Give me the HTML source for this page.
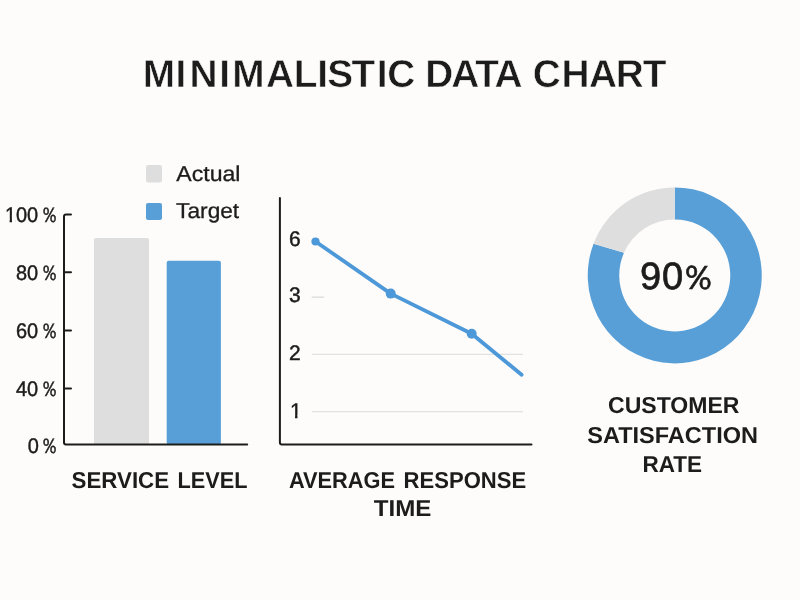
<!DOCTYPE html>
<html>
<head>
<meta charset="utf-8">
<title>Minimalistic Data Chart</title>
<style>
html,body{margin:0;padding:0;width:800px;height:600px;overflow:hidden;background:#fdfcfa;}
svg{display:block;text-rendering:geometricPrecision;}
text{font-family:"Liberation Sans",Arial,sans-serif;fill:#1c1c1c;}
.t{font-weight:700;font-size:38.8px;stroke:#fdfcfa;stroke-width:0.55px;}
.ax{font-size:21px;stroke:#1c1c1c;stroke-width:0.45px;}
.pc{font-family:"WenQuanYi Zen Hei","Liberation Sans",sans-serif;}
.cap{font-weight:700;font-size:23px;}
.lg{font-size:21.6px;stroke:#1c1c1c;stroke-width:0.3px;}
</style>
</head>
<body>
<svg width="800" height="600" viewBox="0 0 800 600">
<rect width="800" height="600" fill="#fdfcfa"/>
<!-- Title -->
<text class="t" x="142.74 175.41 189.45 219.16 232.34 266.02 293.70 317.31 327.26 351.57 376.86 387.17" y="87.2">MINIMALISTIC</text>
<text class="t" x="425.26 451.27 475.14 494.52" y="87.2">DATA</text>
<text class="t" x="532.77 561.40 589.07 615.79 642.74" y="87.2">CHART</text>
<!-- Legend -->
<rect x="146" y="165" width="16" height="17.5" rx="2" fill="#dededf"/>
<rect x="146" y="203" width="16" height="17" rx="2" fill="#589fd7"/>
<text class="lg" x="176.37" y="180.9" textLength="64.09" lengthAdjust="spacingAndGlyphs">Actual</text>
<text class="lg" x="176.11" y="217.8" textLength="63.07" lengthAdjust="spacingAndGlyphs">Target</text>
<!-- Bar chart -->
<g class="ax">
<defs><clipPath id="f1" clipPathUnits="userSpaceOnUse"><rect x="-60" y="-30" width="80" height="27.73"/><rect x="-30.06" y="-3" width="2.46" height="6"/><rect x="-23.56" y="-3" width="40" height="6"/></clipPath><clipPath id="f2" clipPathUnits="userSpaceOnUse"><rect x="280" y="395" width="30" height="20.33"/><rect x="294.98" y="410" width="2.46" height="12"/></clipPath></defs>
<text transform="translate(38.2 221.5) scale(0.95 1)" text-anchor="end" clip-path="url(#f1)">100</text>
<text class="pc" transform="translate(43 221.6) scale(0.9 1)">%</text>
<text transform="translate(38.2 279.6) scale(0.95 1)" text-anchor="end">80</text>
<text class="pc" transform="translate(43 279.7) scale(0.9 1)">%</text>
<text transform="translate(38.2 337.9) scale(0.95 1)" text-anchor="end">60</text>
<text class="pc" transform="translate(43 338.0) scale(0.9 1)">%</text>
<text transform="translate(38.2 395.7) scale(0.95 1)" text-anchor="end">40</text>
<text class="pc" transform="translate(43 395.8) scale(0.9 1)">%</text>
<text transform="translate(38.9 453.2) scale(0.95 1)" text-anchor="end">0</text>
<text class="pc" transform="translate(43 453.3) scale(0.9 1)">%</text>
</g>
<rect x="94" y="238" width="55" height="207" rx="2" fill="#dededf"/>
<rect x="166.7" y="260.7" width="54.2" height="184" rx="2" fill="#589fd7"/>
<path d="M71 214.6 H66 Q64 214.6 64 216.6 V442.4 Q64 444.4 66 444.4 H247.2" fill="none" stroke="#1c1c1c" stroke-width="2" stroke-linecap="round" stroke-linejoin="round"/>
<path d="M64 272.3 H71 M64 330.5 H71 M64 388.4 H71" stroke="#1c1c1c" stroke-width="2" stroke-linecap="round"/>
<!-- Line chart -->
<g class="ax">
<text x="289" y="245.8">6</text>
<text x="289" y="301.8">3</text>
<text x="289" y="359.7">2</text>
<text x="290" y="417.6" clip-path="url(#f2)">1</text>
</g>
<path d="M311.7 297.1 H324 M312 354.2 H523 M312 411.7 H523" stroke="#d9d9d9" stroke-width="1.15"/>
<path d="M279.9 198 V442.4 Q279.9 444.4 281.9 444.4 H531.5" fill="none" stroke="#1c1c1c" stroke-width="2" stroke-linecap="round"/>
<polyline points="315.5,241.5 390.7,293.6 471.7,333.7 521.6,374.7" fill="none" stroke="#4d98d8" stroke-width="3.8" stroke-linecap="round" stroke-linejoin="round"/>
<circle cx="315.5" cy="241.5" r="4.1" fill="#4d98d8"/>
<circle cx="390.7" cy="293.6" r="5" fill="#4d98d8"/>
<circle cx="471.7" cy="333.7" r="5" fill="#4d98d8"/>
<!-- Donut -->
<path d="M674.75,187.40 A87,88 0 1 1 593.58,243.72 L624.01,252.71 A55.5,56 0 1 0 674.75,219.40 Z" fill="#589fd7"/>
<path d="M593.58,243.72 A87,88 0 0 1 674.75,187.40 L674.75,219.40 A55.5,56 0 0 0 624.01,252.71 Z" fill="#dededf"/>
<text x="640" y="289.2" style="font-size:38px;letter-spacing:0.8px;stroke:#1c1c1c;stroke-width:0.7px">90</text>
<text class="pc" transform="translate(685.6 289.2) scale(1.1 1)" style="font-size:33.5px;stroke:#1c1c1c;stroke-width:0.6px">%</text>
<!-- Captions -->
<text class="cap" x="71.57" y="487.7" textLength="97.51" lengthAdjust="spacingAndGlyphs">SERVICE</text>
<text class="cap" x="177.6" y="487.7" textLength="70.0" lengthAdjust="spacingAndGlyphs">LEVEL</text>
<text class="cap" x="288.91" y="487.5" textLength="106.19" lengthAdjust="spacingAndGlyphs">AVERAGE</text>
<text class="cap" x="403.59" y="487.5" textLength="122.59" lengthAdjust="spacingAndGlyphs">RESPONSE</text>
<text class="cap" x="373.72" y="516.3" textLength="57.66" lengthAdjust="spacingAndGlyphs">TIME</text>
<text class="cap" x="608.05" y="412.9" textLength="131.4" lengthAdjust="spacingAndGlyphs">CUSTOMER</text>
<text class="cap" x="587.29" y="442.6" textLength="170.75" lengthAdjust="spacingAndGlyphs">SATISFACTION</text>
<text class="cap" x="642.49" y="471.9" textLength="59.65" lengthAdjust="spacingAndGlyphs">RATE</text>
</svg>
</body>
</html>
